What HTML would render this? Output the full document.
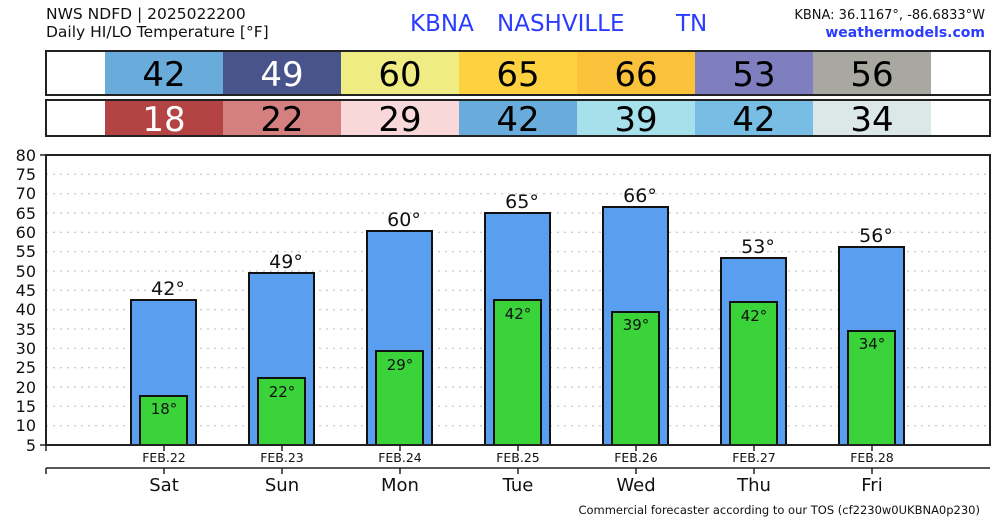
<!DOCTYPE html>
<html><head><meta charset="utf-8"><style>
body{margin:0;background:#fff}
svg{display:block;font-family:"DejaVu Sans","Liberation Sans",sans-serif}
</style></head><body>
<svg width="1000" height="520" viewBox="0 0 1000 520">
<text x="46" y="19" font-size="15.5" fill="#111">NWS NDFD | 2025022200</text>
<text x="46" y="37" font-size="15.5" fill="#111">Daily HI/LO Temperature [°F]</text>
<text x="410" y="31" font-size="23" fill="#2a3cff">KBNA</text>
<text x="497" y="31" font-size="23" fill="#2a3cff">NASHVILLE</text>
<text x="676" y="31" font-size="23" fill="#2a3cff">TN</text>
<text x="985" y="19" font-size="13" fill="#111" text-anchor="end">KBNA: 36.1167°, -86.6833°W</text>
<text x="985" y="37" font-size="14" fill="#2a3cff" text-anchor="end" font-weight="bold">weathermodels.com</text>
<!-- row1 -->
<rect x="46" y="51" width="944" height="44" fill="#fff" stroke="#222" stroke-width="2"/>
<g font-size="34" text-anchor="middle">
<rect x="105" y="52" width="118" height="42" fill="#69acdb"/><text x="164" y="86">42</text>
<rect x="223" y="52" width="118" height="42" fill="#4a548c"/><text x="282" y="86" fill="#fff">49</text>
<rect x="341" y="52" width="118" height="42" fill="#eeec82"/><text x="400" y="86">60</text>
<rect x="459" y="52" width="118" height="42" fill="#fdd13f"/><text x="518" y="86">65</text>
<rect x="577" y="52" width="118" height="42" fill="#fac23a"/><text x="636" y="86">66</text>
<rect x="695" y="52" width="118" height="42" fill="#7f7fc0"/><text x="754" y="86">53</text>
<rect x="813" y="52" width="118" height="42" fill="#a8a8a0"/><text x="872" y="86">56</text>
</g>
<rect x="46" y="100" width="944" height="36" fill="none" stroke="#222" stroke-width="2"/>
<g font-size="34" text-anchor="middle">
<rect x="105" y="101" width="118" height="34" fill="#b44444"/><text x="164" y="131" fill="#fff">18</text>
<rect x="223" y="101" width="118" height="34" fill="#d48080"/><text x="282" y="131">22</text>
<rect x="341" y="101" width="118" height="34" fill="#f8d8d8"/><text x="400" y="131">29</text>
<rect x="459" y="101" width="118" height="34" fill="#69acdb"/><text x="518" y="131">42</text>
<rect x="577" y="101" width="118" height="34" fill="#a6e0ea"/><text x="636" y="131">39</text>
<rect x="695" y="101" width="118" height="34" fill="#78bde3"/><text x="754" y="131">42</text>
<rect x="813" y="101" width="118" height="34" fill="#dce8e8"/><text x="872" y="131">34</text>
</g>
<!-- grid -->
<g stroke="#bbb" stroke-dasharray="2,5" stroke-width="1">
<line x1="46" x2="990" y1="174.3" y2="174.3"/><line x1="46" x2="990" y1="193.7" y2="193.7"/>
<line x1="46" x2="990" y1="213" y2="213"/><line x1="46" x2="990" y1="232.3" y2="232.3"/>
<line x1="46" x2="990" y1="251.7" y2="251.7"/><line x1="46" x2="990" y1="271" y2="271"/>
<line x1="46" x2="990" y1="290.3" y2="290.3"/><line x1="46" x2="990" y1="309.7" y2="309.7"/>
<line x1="46" x2="990" y1="329" y2="329"/><line x1="46" x2="990" y1="348.3" y2="348.3"/>
<line x1="46" x2="990" y1="367.7" y2="367.7"/><line x1="46" x2="990" y1="387" y2="387"/>
<line x1="46" x2="990" y1="406.3" y2="406.3"/><line x1="46" x2="990" y1="425.7" y2="425.7"/>
</g>
<g font-size="16" text-anchor="end" fill="#111">
<text x="36" y="161">80</text><text x="36" y="180">75</text><text x="36" y="199">70</text><text x="36" y="219">65</text>
<text x="36" y="238">60</text><text x="36" y="257">55</text><text x="36" y="277">50</text><text x="36" y="296">45</text>
<text x="36" y="315">40</text><text x="36" y="335">35</text><text x="36" y="354">30</text><text x="36" y="373">25</text>
<text x="36" y="393">20</text><text x="36" y="412">15</text><text x="36" y="431">10</text><text x="36" y="451">5</text>
</g>
<g stroke="#222" stroke-width="1.5">
<line x1="40" x2="46" y1="155" y2="155"/><line x1="40" x2="46" y1="445" y2="445"/>
</g>
<!-- bars -->
<g stroke="#111" stroke-width="2">
<rect x="131" y="300" width="65" height="145" fill="#5a9ef0"/>
<rect x="249" y="273" width="65" height="172" fill="#5a9ef0"/>
<rect x="367" y="231" width="65" height="214" fill="#5a9ef0"/>
<rect x="485" y="213" width="65" height="232" fill="#5a9ef0"/>
<rect x="603" y="207" width="65" height="238" fill="#5a9ef0"/>
<rect x="721" y="258" width="65" height="187" fill="#5a9ef0"/>
<rect x="839" y="247" width="65" height="198" fill="#5a9ef0"/>
<rect x="140" y="396" width="47" height="49" fill="#3ad33a"/>
<rect x="258" y="378" width="47" height="67" fill="#3ad33a"/>
<rect x="376" y="351" width="47" height="94" fill="#3ad33a"/>
<rect x="494" y="300" width="47" height="145" fill="#3ad33a"/>
<rect x="612" y="312" width="47" height="133" fill="#3ad33a"/>
<rect x="730" y="302" width="47" height="143" fill="#3ad33a"/>
<rect x="848" y="331" width="47" height="114" fill="#3ad33a"/>
</g>
<g font-size="19" text-anchor="middle" fill="#111">
<text x="168" y="295">42°</text><text x="286" y="268">49°</text><text x="404" y="226">60°</text>
<text x="522" y="208">65°</text><text x="640" y="202">66°</text><text x="758" y="253">53°</text><text x="876" y="242">56°</text>
</g>
<g font-size="15" text-anchor="middle" fill="#111">
<text x="164" y="414">18°</text><text x="282" y="397">22°</text><text x="400" y="370">29°</text>
<text x="518" y="319">42°</text><text x="636" y="330">39°</text><text x="754" y="321">42°</text><text x="872" y="349">34°</text>
</g>
<rect x="46" y="155" width="944" height="290" fill="none" stroke="#222" stroke-width="2"/>
<!-- x axes -->
<g stroke="#222" stroke-width="1.5">
<line x1="46" x2="46" y1="445" y2="451"/>
<line x1="164" x2="164" y1="445" y2="451"/><line x1="282" x2="282" y1="445" y2="451"/>
<line x1="400" x2="400" y1="445" y2="451"/><line x1="518" x2="518" y1="445" y2="451"/>
<line x1="636" x2="636" y1="445" y2="451"/><line x1="754" x2="754" y1="445" y2="451"/>
<line x1="872" x2="872" y1="445" y2="451"/>
<line x1="46" x2="990" y1="468" y2="468"/>
<line x1="46" x2="46" y1="468" y2="474"/>
<line x1="164" x2="164" y1="468" y2="474"/><line x1="282" x2="282" y1="468" y2="474"/>
<line x1="400" x2="400" y1="468" y2="474"/><line x1="518" x2="518" y1="468" y2="474"/>
<line x1="636" x2="636" y1="468" y2="474"/><line x1="754" x2="754" y1="468" y2="474"/>
<line x1="872" x2="872" y1="468" y2="474"/>
</g>
<g font-size="12.5" text-anchor="middle" fill="#111">
<text x="164" y="462">FEB.22</text><text x="282" y="462">FEB.23</text><text x="400" y="462">FEB.24</text>
<text x="518" y="462">FEB.25</text><text x="636" y="462">FEB.26</text><text x="754" y="462">FEB.27</text><text x="872" y="462">FEB.28</text>
</g>
<g font-size="18" text-anchor="middle" fill="#111">
<text x="164" y="491">Sat</text><text x="282" y="491">Sun</text><text x="400" y="491">Mon</text>
<text x="518" y="491">Tue</text><text x="636" y="491">Wed</text><text x="754" y="491">Thu</text><text x="872" y="491">Fri</text>
</g>
<text x="980" y="514" font-size="11.5" text-anchor="end" fill="#111">Commercial forecaster according to our TOS (cf2230w0UKBNA0p230)</text>
</svg>
</body></html>
